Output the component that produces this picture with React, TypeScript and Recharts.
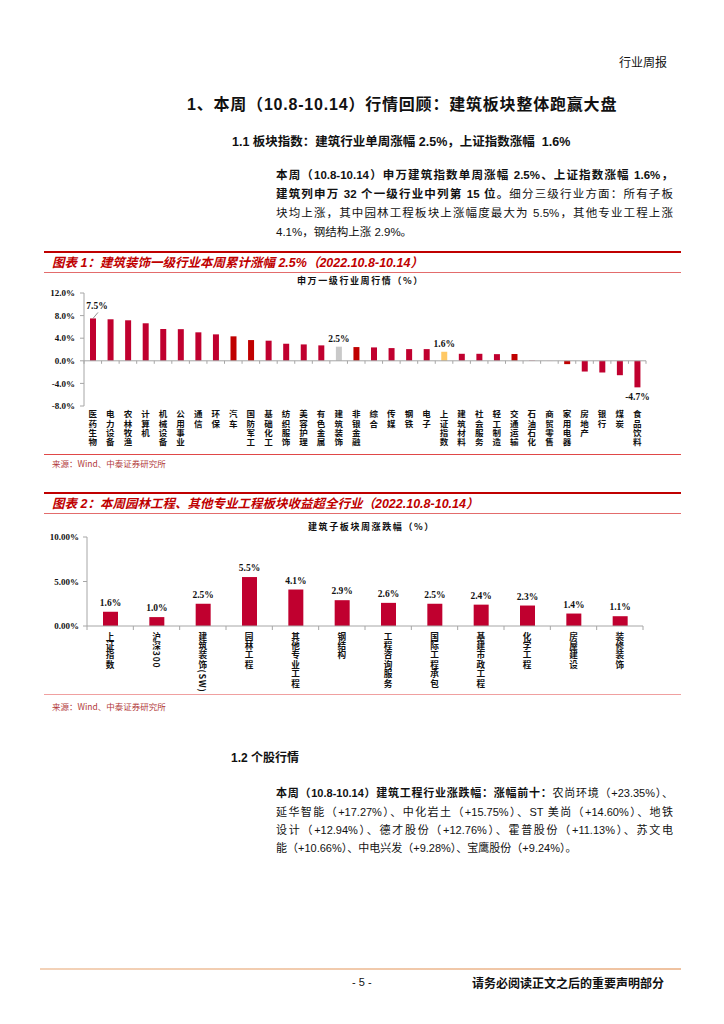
import React from 'react'
import { BarChart, Bar, XAxis, YAxis, Cell, LabelList, ReferenceLine } from 'recharts'

// 申万一级行业周涨跌幅（%）
const industries = [
  '医药生物', '电力设备', '农林牧渔', '计算机', '机械设备', '公用事业', '通信', '环保',
  '汽车', '国防军工', '基础化工', '纺织服饰', '美容护理', '有色金属', '建筑装饰', '非银金融',
  '综合', '传媒', '钢铁', '电子', '上证指数', '建筑材料', '社会服务', '轻工制造',
  '交通运输', '石油石化', '商贸零售', '家用电器', '房地产', '银行', '煤炭', '食品饮料',
]
const industryChange = [
  7.5, 7.35, 7.17, 6.64, 5.63, 5.6, 5.04, 4.68,
  4.33, 3.67, 3.56, 3.02, 2.9, 2.73, 2.5, 2.43,
  2.37, 2.25, 2.07, 2.07, 1.6, 1.24, 1.24, 1.18,
  1.2, 0.12, -0.05, -0.59, -1.9, -2.07, -2.55, -4.7,
]
const industryTicks = [-8, -4, 0, 4, 8, 12]
const labeledIndustries = ['医药生物', '建筑装饰', '上证指数', '食品饮料']

// 建筑子板块周涨跌幅（%）
const subSectors = [
  '上证指数', '沪深300', '建筑装饰(SW)', '园林工程', '其他专业工程', '钢结构',
  '工程咨询服务', '国际工程承包', '基建市政工程', '化学工程', '房屋建设', '装修装饰',
]
const subSectorChange = [1.6, 1.0, 2.5, 5.5, 4.1, 2.9, 2.6, 2.5, 2.4, 2.3, 1.4, 1.1]
const subSectorTicks = [0, 5, 10]

const SANS = '"Liberation Sans", Arial, "Noto Sans CJK SC", sans-serif'
const CJK = '"Noto Sans CJK SC", sans-serif'
const SERIF = '"Liberation Serif", "Times New Roman", "Noto Sans CJK SC", serif'
const RED = '#C0002F'
const DARK_RED = '#C00000'
const AXIS = '#A6A6A6'

const barColors: Record<string, string> = {
  汽车: DARK_RED, 国防军工: DARK_RED, 非银金融: DARK_RED, 交通运输: DARK_RED, 家用电器: DARK_RED,
  建筑装饰: '#C9C9C9', 上证指数: '#FFC864', 石油石化: '#EFA3B6', 商贸零售: '#F6D3DC',
}

// chart 1 geometry
const C1_TOP = 283
const C1_W = 700
const C1_PLOT_L = 84
const C1_PLOT_R = 646
const C1_PLOT_H = 113
const C1_XAXIS_H = 60
const BAND1 = (C1_PLOT_R - C1_PLOT_L) / industries.length

// chart 2 geometry
const C2_TOP = 527
const C2_W = 700
const C2_PLOT_L = 87
const C2_PLOT_R = 643
const C2_PLOT_H = 89
const C2_XAXIS_H = 70
const BAND2 = (C2_PLOT_R - C2_PLOT_L) / subSectors.length

// vertical category label: CJK upright, latin runs turned sideways
function VerticalLabel({ x, y, text, pitch, size }: any) {
  return (
    <text
      x={x}
      y={y}
      fontFamily={CJK}
      fontWeight="bold"
      fontSize={size}
      fill="#111"
      style={{ writingMode: 'vertical-rl', letterSpacing: pitch - size }}
    >
      {text}
    </text>
  )
}

function IndustryTick(props: any) {
  const { x, y, payload, index } = props
  const lo = industryTicks[0]
  const hi = industryTicks[industryTicks.length - 1]
  const zeroY = y - (C1_PLOT_H * (0 - lo)) / (hi - lo)
  return (
    <g>
      <line x1={x - BAND1 / 2} x2={x - BAND1 / 2} y1={zeroY} y2={zeroY + 3} stroke={AXIS} />
      {index === industries.length - 1 && (
        <line x1={x + BAND1 / 2} x2={x + BAND1 / 2} y1={zeroY} y2={zeroY + 3} stroke={AXIS} />
      )}
      <VerticalLabel x={x} y={y + 4} text={payload.value} pitch={9.2} size={8.5} />
    </g>
  )
}

function SubSectorTick(props: any) {
  const { x, y, payload, index } = props
  return (
    <g>
      <line x1={x - BAND2 / 2} x2={x - BAND2 / 2} y1={y} y2={y + 4} stroke={AXIS} />
      {index === subSectors.length - 1 && (
        <line x1={x + BAND2 / 2} x2={x + BAND2 / 2} y1={y} y2={y + 4} stroke={AXIS} />
      )}
      <VerticalLabel x={x} y={y + 6} text={payload.value} pitch={9.4} size={8.6} />
    </g>
  )
}

function IndustryLabel(p: any) {
  const { x, y, width, height, index, value } = p
  if (!labeledIndustries.includes(industries[index])) return null
  const cx = x + width / 2
  const top = Math.min(y, y + height)
  const bottom = Math.max(y, y + height)
  const text = `${Number(value).toFixed(1)}%`
  const style = { fontFamily: SERIF, fontWeight: 'bold' as const, fontSize: 9.5, fill: '#111' }
  if (value < 0) return <text x={cx} y={bottom + 13} textAnchor="middle" {...style}>{text}</text>
  if (index === 0) {
    return (
      <g>
        <line x1={cx} y1={top} x2={cx + 5} y2={top - 6} stroke="#777" strokeWidth={0.8} />
        <text x={cx + 4} y={top - 9} textAnchor="middle" {...style}>{text}</text>
      </g>
    )
  }
  return <text x={cx} y={top - 5} textAnchor="middle" {...style}>{text}</text>
}

function SubSectorLabel(p: any) {
  const { x, y, width, value } = p
  return (
    <text x={x + width / 2} y={y - 6} textAnchor="middle" fontFamily={SERIF} fontWeight="bold"
      fontSize={9.5} fill="#111">{`${Number(value).toFixed(1)}%`}</text>
  )
}

function Txt({ left, top, size, bold, color, children, italic, width, justify, family, spacing }: any) {
  return (
    <div
      style={{
        position: 'absolute', left, top, fontSize: size, lineHeight: `${size + 4}px`,
        fontWeight: bold ? 'bold' : 'normal', color: color || '#111', fontStyle: italic ? 'italic' : 'normal',
        fontFamily: family || SANS, width, textAlign: justify ? 'justify' : 'left',
        textAlignLast: justify ? 'justify' : 'auto', whiteSpace: width ? 'normal' : 'nowrap',
        letterSpacing: spacing || 0,
      }}
    >
      {children}
    </div>
  )
}

function Rule({ top, color, h }: any) {
  return <div style={{ position: 'absolute', left: 44, top, width: 637, height: h, background: color }} />
}

export default function App() {
  const industryData = industries.map((name, i) => ({ name, value: industryChange[i] }))
  const subSectorData = subSectors.map((name, i) => ({ name, value: subSectorChange[i] }))

  const p1 = 276
  const p1w = 397
  const para1Top = (c: number) => c - 7.75
  const para2Top = (c: number) => c - 7.5

  return (
    <div style={{ position: 'absolute', left: 0, top: 0, width: 724, height: 1024, background: '#fff', overflow: 'hidden' }}>
      <Txt left={619} top={62 - 8} size={12} family={CJK}>行业周报</Txt>

      <Txt left={187} top={105 - 10} size={16} bold spacing={0.8}>1、本周（10.8-10.14）行情回顾：建筑板块整体跑赢大盘</Txt>
      <Txt left={232} top={142 - 8.25} size={12.5} bold>1.1 板块指数：建筑行业单周涨幅 2.5%，上证指数涨幅&nbsp; 1.6%</Txt>

      <Txt left={p1} top={para1Top(176)} size={11.5} width={p1w} justify bold>本周（10.8-10.14）申万建筑指数单周涨幅 2.5%、上证指数涨幅 1.6%，</Txt>
      <Txt left={p1} top={para1Top(195)} size={11.5} width={p1w} justify>
        <b>建筑列申万 32 个一级行业中列第 15 位。</b>细分三级行业方面：所有子板
      </Txt>
      <Txt left={p1} top={para1Top(214)} size={11.5} width={p1w} justify>块均上涨，其中园林工程板块上涨幅度最大为 5.5%，其他专业工程上涨</Txt>
      <Txt left={p1} top={para1Top(233)} size={11.5}>4.1%，钢结构上涨 2.9%。</Txt>

      {/* 图表 1 */}
      <Rule top={251} color={DARK_RED} h={1.5} />
      <Txt left={52} top={263 - 8.25} size={12.5} bold italic color="#C00000">图表 1：建筑装饰一级行业本周累计涨幅 2.5%（2022.10.8-10.14）</Txt>
      <Rule top={271.5} color="#E36C6C" h={1} />
      <Txt left={297} top={280 - 6.5} size={9} bold family={CJK} spacing={1.6}>申万一级行业周行情（%）</Txt>

      <div style={{ position: 'absolute', left: 0, top: C1_TOP }}>
        <BarChart
          width={C1_W}
          height={10 + C1_PLOT_H + C1_XAXIS_H}
          data={industryData}
          margin={{ top: 10, right: C1_W - C1_PLOT_R, left: 0, bottom: 0 }}
        >
          <YAxis
            width={C1_PLOT_L}
            domain={[industryTicks[0], industryTicks[industryTicks.length - 1]]}
            ticks={industryTicks}
            tickFormatter={(v: number) => `${v.toFixed(1)}%`}
            axisLine={{ stroke: AXIS }}
            tickLine={{ stroke: AXIS }}
            tickSize={4}
            tickMargin={5}
            tick={{ fontSize: 9, fontFamily: SERIF, fontWeight: 'bold', fill: '#111' }}
          />
          <XAxis
            dataKey="name"
            height={C1_XAXIS_H}
            axisLine={false}
            tickLine={false}
            tickSize={0}
            tickMargin={0}
            interval={0}
            tick={<IndustryTick />}
          />
          <ReferenceLine y={0} stroke={AXIS} />
          <Bar dataKey="value" barSize={6} isAnimationActive={false}>
            {industryData.map((d) => (
              <Cell key={d.name} fill={barColors[d.name] || RED} />
            ))}
            <LabelList dataKey="value" content={<IndustryLabel />} />
          </Bar>
        </BarChart>
      </div>

      <Rule top={453.5} color="#E04848" h={1} />
      <Txt left={52} top={463 - 6} size={8.5} color="#B23A3A" family={CJK}>来源：Wind、中泰证券研究所</Txt>

      {/* 图表 2 */}
      <Rule top={492} color={DARK_RED} h={1.5} />
      <Txt left={52} top={504 - 8.25} size={12.5} bold italic color="#C00000">图表 2：本周园林工程、其他专业工程板块收益超全行业（2022.10.8-10.14）</Txt>
      <Rule top={513} color="#E36C6C" h={1} />
      <Txt left={308} top={526 - 6.5} size={9} bold family={CJK} spacing={1.6}>建筑子板块周涨跌幅（%）</Txt>

      <div style={{ position: 'absolute', left: 0, top: C2_TOP }}>
        <BarChart
          width={C2_W}
          height={10 + C2_PLOT_H + C2_XAXIS_H}
          data={subSectorData}
          margin={{ top: 10, right: C2_W - C2_PLOT_R, left: 0, bottom: 0 }}
        >
          <YAxis
            width={C2_PLOT_L}
            domain={[0, 10]}
            ticks={subSectorTicks}
            tickFormatter={(v: number) => `${v.toFixed(2)}%`}
            axisLine={{ stroke: AXIS }}
            tickLine={{ stroke: AXIS }}
            tickSize={4}
            tickMargin={4}
            tick={{ fontSize: 9, fontFamily: SERIF, fontWeight: 'bold', fill: '#111' }}
          />
          <XAxis
            dataKey="name"
            height={C2_XAXIS_H}
            axisLine={{ stroke: AXIS }}
            tickLine={false}
            tickSize={0}
            tickMargin={0}
            interval={0}
            tick={<SubSectorTick />}
          />
          <Bar dataKey="value" barSize={15} fill={RED} isAnimationActive={false}>
            <LabelList dataKey="value" content={<SubSectorLabel />} />
          </Bar>
        </BarChart>
      </div>

      <Rule top={694} color="#F0A0A0" h={1} />
      <Txt left={52} top={706 - 6} size={8.5} color="#B23A3A" family={CJK}>来源：Wind、中泰证券研究所</Txt>

      <Txt left={231} top={758 - 8} size={12} bold>1.2 个股行情</Txt>

      <Txt left={p1} top={para2Top(793)} size={11} width={p1w} justify>
        <b>本周（10.8-10.14）建筑工程行业涨跌幅：涨幅前十：</b>农尚环境（+23.35%）、
      </Txt>
      <Txt left={p1} top={para2Top(812)} size={11} width={p1w} justify>延华智能（+17.27%）、中化岩土（+15.75%）、ST 美尚（+14.60%）、地铁</Txt>
      <Txt left={p1} top={para2Top(830)} size={11} width={p1w} justify>设计（+12.94%）、德才股份（+12.76%）、霍普股份（+11.13%）、苏文电</Txt>
      <Txt left={p1} top={para2Top(848)} size={11}>能（+10.66%）、中电兴发（+9.28%）、宝鹰股份（+9.24%）。</Txt>

      <div style={{ position: 'absolute', left: 40, top: 968, width: 641, height: 1.5, background: 'linear-gradient(90deg, #F3D2B8, #EFC2A0)' }} />
      <Txt left={352} top={982 - 7} size={11} family={SANS}>- 5 -</Txt>
      <Txt left={472} top={982 - 7} size={12} bold family={CJK}>请务必阅读正文之后的重要声明部分</Txt>
    </div>
  )
}
